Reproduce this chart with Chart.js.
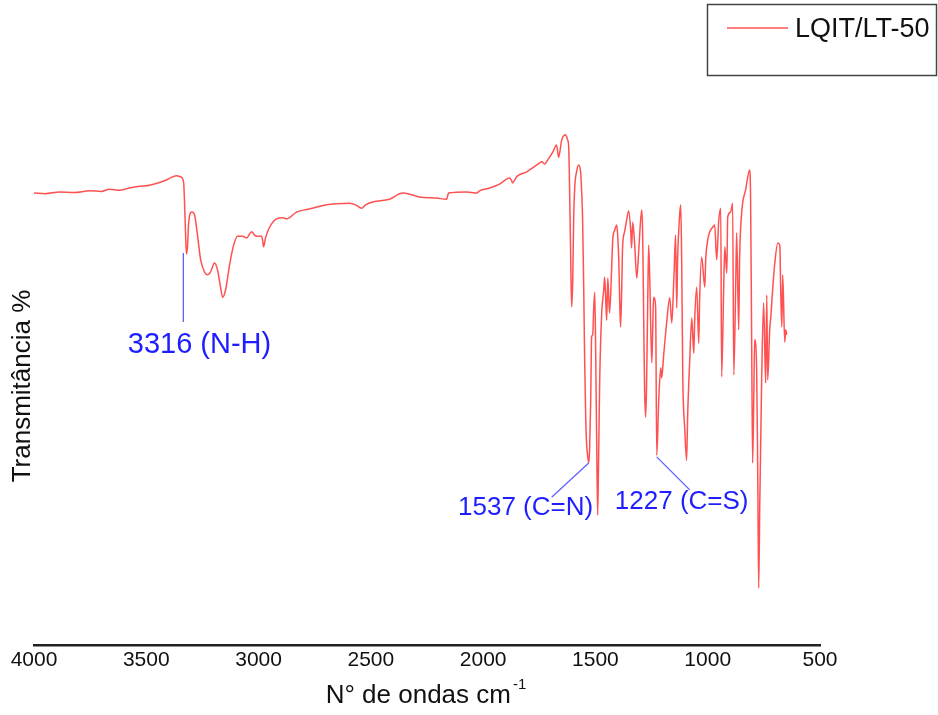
<!DOCTYPE html>
<html>
<head>
<meta charset="utf-8">
<script src="https://cdn.jsdelivr.net/npm/chart.js@4"></script>
<style>
  html, body { margin: 0; padding: 0; background: #fff; }
  #wrap { width: 938px; height: 715px; position: relative; }
</style>
</head>
<body>
<div id="wrap"><canvas id="c" width="938" height="715"></canvas></div>
<script>
// Wavenumber (cm-1) and transmittance (%)
const wavenumbers = [
  4000, 3950, 3886, 3820, 3753, 3700, 3664, 3620, 3575, 3530, 3486, 3419, 3365, 3347, 3334, 3330, 3325, 3321, 3316, 3312,
  3298, 3285, 3272, 3258, 3241, 3227, 3214, 3196, 3183, 3169, 3160, 3147, 3129, 3111, 3094, 3071, 3053, 3040, 3031, 3018,
  3009, 2987, 2982, 2978, 2969, 2951, 2920, 2893, 2875, 2831, 2795, 2760, 2697, 2653, 2595, 2568, 2541, 2523, 2492, 2417,
  2359, 2327, 2283, 2207, 2163, 2158, 2154, 2074, 2029, 2016, 1971, 1927, 1882, 1873, 1869, 1860, 1851, 1806, 1780, 1748,
  1739, 1726, 1713, 1690, 1673, 1664, 1650, 1633, 1624, 1619, 1615, 1610, 1606, 1601, 1597, 1592, 1584, 1575, 1566, 1561,
  1557, 1552, 1548, 1543, 1539, 1535, 1530, 1526, 1521, 1517, 1512, 1508, 1503, 1499, 1494, 1490, 1486, 1481, 1472, 1463,
  1459, 1454, 1450, 1445, 1441, 1437, 1428, 1423, 1414, 1405, 1401, 1396, 1392, 1388, 1383, 1379, 1370, 1361, 1352, 1343,
  1339, 1334, 1325, 1316, 1307, 1294, 1290, 1285, 1281, 1276, 1272, 1267, 1263, 1258, 1249, 1245, 1241, 1232, 1227, 1218,
  1209, 1205, 1196, 1183, 1169, 1160, 1151, 1143, 1138, 1134, 1125, 1120, 1116, 1111, 1102, 1094, 1089, 1080, 1071, 1062,
  1058, 1049, 1040, 1036, 1027, 1013, 1009, 1000, 991, 978, 969, 960, 951, 942, 938, 929, 924, 915, 911, 898,
  889, 884, 875, 871, 862, 858, 849, 831, 813, 809, 804, 800, 795, 791, 782, 777, 773, 768, 760, 751,
  742, 737, 733, 724, 719, 711, 702, 688, 679, 675, 670, 666, 657, 653, 648
];
const transmittance = [
  80.7, 80.6, 80.9, 80.8, 81.1, 81.0, 81.4, 81.2, 81.6, 81.9, 82.1, 82.9, 83.8, 83.6, 82.7, 79.5, 73.2, 69.8, 71.4, 75.0,
  77.3, 76.8, 73.2, 68.8, 66.6, 66.1, 66.6, 68.2, 67.0, 63.8, 62.1, 63.4, 67.9, 71.4, 73.0, 73.0, 72.7, 73.4, 73.8, 73.2,
  73.0, 73.0, 72.3, 71.1, 72.7, 74.6, 76.1, 76.3, 76.1, 77.3, 77.7, 78.0, 78.6, 78.8, 78.9, 78.6, 78.0, 78.6, 79.1, 79.6,
  80.7, 80.5, 80.0, 79.8, 79.6, 80.2, 80.7, 80.9, 80.7, 81.1, 81.6, 82.3, 83.4, 82.9, 82.5, 83.0, 83.6, 84.5, 85.2, 86.1,
  86.3, 85.9, 86.6, 88.0, 89.3, 87.1, 90.2, 91.1, 90.2, 88.9, 81.3, 68.8, 60.4, 65.2, 75.9, 81.8, 84.5, 85.7, 84.5, 80.7,
  75.9, 63.4, 50.9, 40.2, 35.7, 33.9, 32.5, 34.8, 43.8, 55.0, 55.4, 59.8, 63.0, 52.7, 34.8, 23.2, 33.0, 47.3, 59.3, 63.4,
  65.7, 61.6, 58.0, 65.5, 62.5, 59.3, 67.0, 72.3, 74.1, 75.0, 73.2, 68.8, 61.6, 56.8, 63.4, 71.1, 73.8, 75.9, 77.5, 74.1,
  70.9, 75.5, 71.4, 65.5, 70.5, 77.7, 74.1, 58.0, 45.5, 40.7, 47.3, 61.6, 71.4, 65.2, 50.4, 56.3, 62.1, 60.4, 33.9, 43.8,
  49.5, 47.7, 51.8, 57.5, 62.0, 57.5, 65.2, 73.2, 60.2, 68.8, 76.8, 78.6, 68.8, 47.9, 38.4, 33.0, 41.4, 50.9, 58.4, 52.1,
  58.0, 63.9, 53.9, 61.6, 69.3, 63.9, 68.8, 72.3, 73.8, 74.6, 75.0, 68.8, 75.7, 78.0, 47.9, 63.4, 71.1, 66.4, 76.4, 77.3,
  78.9, 48.2, 65.2, 73.6, 56.3, 68.8, 77.1, 81.3, 84.8, 79.5, 52.7, 32.5, 43.8, 54.5, 49.1, 29.5, 10.2, 25.9, 46.8, 61.1,
  46.8, 62.5, 47.3, 56.3, 58.6, 63.4, 67.9, 71.8, 71.4, 63.4, 56.8, 66.1, 54.1, 56.3, 55.4
];
const xTickLabels = [4000, 3500, 3000, 2500, 2000, 1500, 1000, 500];
const seriesName = 'LQIT/LT-50';

// Peak annotations (data coordinates): line start, line end, text centre/baseline, font size
const peakLabels = ['3316 (N-H)', '1537 (C=N)', '1227 (C=S)'];
const peakLineFrom = [[3335, 70.0], [1530, 32.5], [1227, 33.6]];
const peakLineTo = [[3335, 57.7], [1695, 26.4], [1080, 27.7]];
const peakTextAt = [[3263, 52.1], [1811, 23.2], [1116, 24.3]];
const peakFont = [29, 26, 26];

const FONT = '"Liberation Sans", Arial, Helvetica, sans-serif';

const overlay = {
  id: 'overlay',
  afterDraw(chart) {
    const ctx = chart.ctx;
    const xs = chart.scales.x, ys = chart.scales.y;
    ctx.save();
    for (let i = 0; i < peakLabels.length; i++) {
      ctx.strokeStyle = '#6060ff';
      ctx.lineWidth = 1.3;
      ctx.beginPath();
      ctx.moveTo(xs.getPixelForValue(peakLineFrom[i][0]), ys.getPixelForValue(peakLineFrom[i][1]));
      ctx.lineTo(xs.getPixelForValue(peakLineTo[i][0]), ys.getPixelForValue(peakLineTo[i][1]));
      ctx.stroke();
      ctx.fillStyle = '#1e1eff';
      ctx.font = peakFont[i] + 'px ' + FONT;
      ctx.textAlign = 'center';
      ctx.textBaseline = 'alphabetic';
      ctx.fillText(peakLabels[i], xs.getPixelForValue(peakTextAt[i][0]), ys.getPixelForValue(peakTextAt[i][1]));
    }
    // y axis title
    ctx.fillStyle = '#111';
    ctx.font = '26px ' + FONT;
    ctx.translate(23, 386);
    ctx.rotate(-Math.PI / 2);
    ctx.textAlign = 'center';
    ctx.textBaseline = 'middle';
    ctx.fillText('Transmitância %', 0, 0);
    ctx.setTransform(1, 0, 0, 1, 0, 0);
    // x axis title with superscript
    ctx.font = '26px ' + FONT;
    ctx.textAlign = 'left';
    ctx.textBaseline = 'alphabetic';
    const main = 'N° de ondas cm';
    const w = ctx.measureText(main).width;
    ctx.font = '15px ' + FONT;
    const ws = ctx.measureText('-1').width;
    const startX = 426 - (w + ws + 2) / 2;
    ctx.font = '26px ' + FONT;
    ctx.fillText(main, startX, 703);
    ctx.font = '15px ' + FONT;
    ctx.fillText('-1', startX + w + 2, 689);
    // legend
    ctx.strokeStyle = '#444';
    ctx.lineWidth = 1.5;
    ctx.strokeRect(707.5, 4.5, 229, 71);
    ctx.strokeStyle = 'rgba(255,50,50,0.85)';
    ctx.lineWidth = 1.4;
    ctx.beginPath();
    ctx.moveTo(727, 28);
    ctx.lineTo(788, 28);
    ctx.stroke();
    ctx.fillStyle = '#111';
    ctx.font = '27px ' + FONT;
    ctx.fillText(seriesName, 795, 37);
    ctx.restore();
  }
};

new Chart(document.getElementById('c'), {
  type: 'line',
  data: {
    datasets: [{
      label: seriesName,
      data: wavenumbers.map((w, i) => ({ x: w, y: transmittance[i] })),
      borderColor: 'rgba(255,50,50,0.85)',
      borderWidth: 1.5,
      pointRadius: 0,
      cubicInterpolationMode: 'monotone',
      fill: false
    }]
  },
  options: {
    responsive: false,
    animation: false,
    devicePixelRatio: 1,
    layout: { padding: { left: 34, right: 118, top: 85, bottom: 0 } },
    plugins: { legend: { display: false }, tooltip: { enabled: false } },
    scales: {
      x: {
        type: 'linear',
        reverse: true,
        min: 500,
        max: 4000,
        grid: { display: false, drawTicks: false },
        border: { display: true, color: '#222', width: 2.5 },
        afterBuildTicks(scale) { scale.ticks = xTickLabels.map(v => ({ value: v })); },
        afterFit(scale) { scale.height = 70; },
        ticks: {
          autoSkip: false,
          maxRotation: 0,
          padding: 3,
          color: '#111',
          font: { family: FONT, size: 21 },
          callback: v => String(v)
        }
      },
      y: {
        display: false,
        min: 0,
        max: 100
      }
    }
  },
  plugins: [overlay]
});
</script>
</body>
</html>
